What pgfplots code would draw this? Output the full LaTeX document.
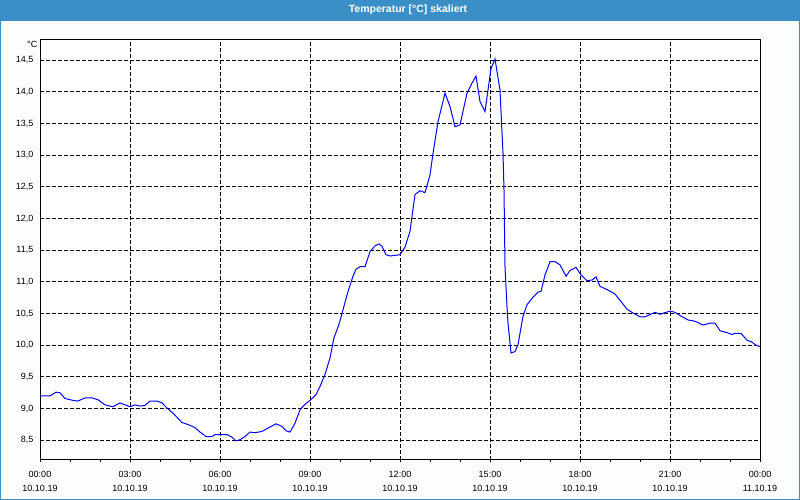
\documentclass[border=0pt]{standalone}
\usepackage{pgfplots}
\pgfplotsset{compat=1.18}
\usepackage{fontspec}
\setmainfont{Liberation Sans}
\definecolor{titleblue}{RGB}{59,143,199}
\definecolor{bgc}{RGB}{252,253,252}
\pgfplotstableread{
t T
0 9.20
20 9.20
26 9.23
32 9.26
40 9.25
50 9.16
66 9.13
76 9.12
90 9.17
104 9.17
116 9.14
130 9.06
140 9.04
146 9.03
160 9.09
170 9.06
180 9.03
190 9.06
200 9.04
210 9.05
220 9.12
234 9.12
244 9.09
254 9.01
266 8.93
284 8.78
296 8.75
310 8.70
320 8.63
332 8.56
344 8.56
350 8.59
374 8.59
384 8.55
392 8.49
400 8.51
410 8.56
420 8.63
430 8.62
444 8.64
460 8.71
472 8.76
484 8.72
492 8.65
500 8.63
510 8.77
520 8.98
530 9.07
540 9.13
552 9.22
560 9.35
570 9.54
580 9.80
588 10.12
598 10.33
606 10.56
616 10.85
626 11.09
632 11.20
640 11.24
650 11.24
660 11.48
670 11.57
678 11.60
684 11.56
692 11.43
700 11.41
720 11.43
730 11.55
740 11.80
750 12.38
760 12.44
770 12.41
780 12.69
786 13.03
796 13.53
810 13.98
820 13.77
830 13.45
840 13.48
854 13.98
864 14.14
872 14.25
880 13.85
890 13.69
896 14.03
902 14.37
910 14.52
920 14.03
922 13.69
926 13.03
928 12.45
930 11.24
934 10.61
936 10.35
942 9.88
950 9.90
956 10.01
966 10.46
974 10.64
986 10.76
996 10.84
1002 10.85
1010 11.11
1020 11.32
1030 11.32
1040 11.27
1052 11.09
1060 11.18
1072 11.23
1082 11.11
1094 11.02
1104 11.03
1112 11.08
1120 10.93
1134 10.88
1150 10.81
1160 10.71
1174 10.57
1186 10.51
1200 10.45
1210 10.45
1230 10.52
1240 10.49
1260 10.54
1270 10.52
1280 10.47
1296 10.40
1310 10.38
1326 10.32
1340 10.35
1350 10.35
1360 10.23
1374 10.20
1384 10.17
1390 10.19
1402 10.19
1414 10.08
1424 10.05
1432 10.00
1440 9.98
}\temps
\begin{document}
\begin{tikzpicture}[x=1pt,y=1pt]
\path[use as bounding box] (0,0) rectangle (800,500);
\fill[bgc] (0,0) rectangle (800,500);
\fill[titleblue] (0,479.3) rectangle (800,500);
\draw[titleblue, line width=1pt] (0.5,0.5) rectangle (799.5,499.5);
\node[white, font=\fontsize{10.5}{12}\selectfont\bfseries, anchor=base] at (408,487.5) {Temperatur [°C] skaliert};
\begin{axis}[
  at={(40pt,40pt)}, anchor=south west,
  scale only axis, width=720pt, height=420pt,
  xmin=0, xmax=1440, ymin=8.189, ymax=14.82,
  axis line style={black, line width=1pt},
  axis background/.style={fill=white},
  xtick={0,180,...,1440},
  minor xtick={60,120,...,1380},
  xticklabels={{00:00\\10.10.19},{03:00\\10.10.19},{06:00\\10.10.19},{09:00\\10.10.19},{12:00\\10.10.19},{15:00\\10.10.19},{18:00\\10.10.19},{21:00\\10.10.19},{00:00\\11.10.19}},
  ytick={8.5,9,...,14.5},
  xtick pos=bottom, ytick pos=left,
  tick align=outside,
  major tick length=2.5pt, minor tick length=2.5pt,
  xtick style={black, line width=1pt},
  ytick style={draw=none},
  xmajorgrids, ymajorgrids,
  major grid style={black, line width=1pt, dash pattern=on 3.5pt off 2.5pt},
  xticklabel style={align=center, font=\fontsize{9}{14.5}\selectfont, anchor=north, inner sep=0pt, yshift=-8.5pt},
  yticklabel style={font=\fontsize{9}{11}\selectfont, anchor=east, inner sep=0pt, xshift=-4pt,
    /pgf/number format/.cd, use comma, fixed, fixed zerofill, precision=1, assume math mode=true},
]
\addplot[blue, line width=1pt, no markers] table[x=t, y=T] {\temps};
\end{axis}
\node[anchor=east, inner sep=0pt, font=\fontsize{9}{11}\selectfont] at (37.5,455.5) {°C};
\end{tikzpicture}
\end{document}
